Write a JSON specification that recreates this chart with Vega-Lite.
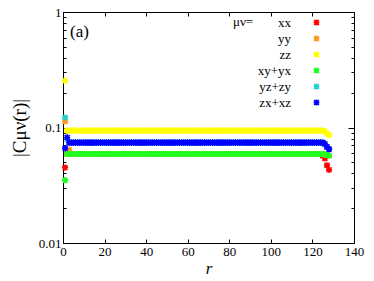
{
"$schema": "https://vega.github.io/schema/vega-lite/v6.json",
"width": 291, "height": 231,
"autosize": {"type": "none"},
"padding": {"left": 63, "top": 12, "right": 20, "bottom": 38},
"background": "white",
"title": {"text": "(a)", "anchor": "start", "orient": "top", "frame": "group", "offset": -35, "dx": 7, "font": "Liberation Serif", "fontSize": 17, "fontWeight": "normal", "color": "black"},
"config": {"view": {"stroke": "black", "strokeWidth": 1}},
"data": {"values": [
{"r":1,"xx":0.045,"yy":0.113,"zz":0.254,"xyyx":0.035,"yzzy":0.122,"zxxz":0.066},
{"r":2,"xx":0.059,"yy":0.059,"zz":0.094,"xyyx":0.059,"yzzy":0.079,"zxxz":0.082},
{"r":3,"xx":0.059,"yy":0.064,"zz":0.094,"xyyx":0.059,"yzzy":0.074,"zxxz":0.074},
{"r":4,"xx":0.059,"yy":0.059,"zz":0.094,"xyyx":0.059,"yzzy":0.074,"zxxz":0.074},
{"r":5,"xx":0.059,"yy":0.059,"zz":0.094,"xyyx":0.059,"yzzy":0.074,"zxxz":0.074},
{"r":6,"xx":0.059,"yy":0.059,"zz":0.094,"xyyx":0.059,"yzzy":0.074,"zxxz":0.074},
{"r":7,"xx":0.059,"yy":0.059,"zz":0.094,"xyyx":0.059,"yzzy":0.074,"zxxz":0.074},
{"r":8,"xx":0.059,"yy":0.059,"zz":0.094,"xyyx":0.059,"yzzy":0.074,"zxxz":0.074},
{"r":9,"xx":0.059,"yy":0.059,"zz":0.094,"xyyx":0.059,"yzzy":0.074,"zxxz":0.074},
{"r":10,"xx":0.059,"yy":0.059,"zz":0.094,"xyyx":0.059,"yzzy":0.074,"zxxz":0.074},
{"r":11,"xx":0.059,"yy":0.059,"zz":0.094,"xyyx":0.059,"yzzy":0.074,"zxxz":0.074},
{"r":12,"xx":0.059,"yy":0.059,"zz":0.094,"xyyx":0.059,"yzzy":0.074,"zxxz":0.074},
{"r":13,"xx":0.059,"yy":0.059,"zz":0.094,"xyyx":0.059,"yzzy":0.074,"zxxz":0.074},
{"r":14,"xx":0.059,"yy":0.059,"zz":0.094,"xyyx":0.059,"yzzy":0.074,"zxxz":0.074},
{"r":15,"xx":0.059,"yy":0.059,"zz":0.094,"xyyx":0.059,"yzzy":0.074,"zxxz":0.074},
{"r":16,"xx":0.059,"yy":0.059,"zz":0.094,"xyyx":0.059,"yzzy":0.074,"zxxz":0.074},
{"r":17,"xx":0.059,"yy":0.059,"zz":0.094,"xyyx":0.059,"yzzy":0.074,"zxxz":0.074},
{"r":18,"xx":0.059,"yy":0.059,"zz":0.094,"xyyx":0.059,"yzzy":0.074,"zxxz":0.074},
{"r":19,"xx":0.059,"yy":0.059,"zz":0.094,"xyyx":0.059,"yzzy":0.074,"zxxz":0.074},
{"r":20,"xx":0.059,"yy":0.059,"zz":0.094,"xyyx":0.059,"yzzy":0.074,"zxxz":0.074},
{"r":21,"xx":0.059,"yy":0.059,"zz":0.094,"xyyx":0.059,"yzzy":0.074,"zxxz":0.074},
{"r":22,"xx":0.059,"yy":0.059,"zz":0.094,"xyyx":0.059,"yzzy":0.074,"zxxz":0.074},
{"r":23,"xx":0.059,"yy":0.059,"zz":0.094,"xyyx":0.059,"yzzy":0.074,"zxxz":0.074},
{"r":24,"xx":0.059,"yy":0.059,"zz":0.094,"xyyx":0.059,"yzzy":0.074,"zxxz":0.074},
{"r":25,"xx":0.059,"yy":0.059,"zz":0.094,"xyyx":0.059,"yzzy":0.074,"zxxz":0.074},
{"r":26,"xx":0.059,"yy":0.059,"zz":0.094,"xyyx":0.059,"yzzy":0.074,"zxxz":0.074},
{"r":27,"xx":0.059,"yy":0.059,"zz":0.094,"xyyx":0.059,"yzzy":0.074,"zxxz":0.074},
{"r":28,"xx":0.059,"yy":0.059,"zz":0.094,"xyyx":0.059,"yzzy":0.074,"zxxz":0.074},
{"r":29,"xx":0.059,"yy":0.059,"zz":0.094,"xyyx":0.059,"yzzy":0.074,"zxxz":0.074},
{"r":30,"xx":0.059,"yy":0.059,"zz":0.094,"xyyx":0.059,"yzzy":0.074,"zxxz":0.074},
{"r":31,"xx":0.059,"yy":0.059,"zz":0.094,"xyyx":0.059,"yzzy":0.074,"zxxz":0.074},
{"r":32,"xx":0.059,"yy":0.059,"zz":0.094,"xyyx":0.059,"yzzy":0.074,"zxxz":0.074},
{"r":33,"xx":0.059,"yy":0.059,"zz":0.094,"xyyx":0.059,"yzzy":0.074,"zxxz":0.074},
{"r":34,"xx":0.059,"yy":0.059,"zz":0.094,"xyyx":0.059,"yzzy":0.074,"zxxz":0.074},
{"r":35,"xx":0.059,"yy":0.059,"zz":0.094,"xyyx":0.059,"yzzy":0.074,"zxxz":0.074},
{"r":36,"xx":0.059,"yy":0.059,"zz":0.094,"xyyx":0.059,"yzzy":0.074,"zxxz":0.074},
{"r":37,"xx":0.059,"yy":0.059,"zz":0.094,"xyyx":0.059,"yzzy":0.074,"zxxz":0.074},
{"r":38,"xx":0.059,"yy":0.059,"zz":0.094,"xyyx":0.059,"yzzy":0.074,"zxxz":0.074},
{"r":39,"xx":0.059,"yy":0.059,"zz":0.094,"xyyx":0.059,"yzzy":0.074,"zxxz":0.074},
{"r":40,"xx":0.059,"yy":0.059,"zz":0.094,"xyyx":0.059,"yzzy":0.074,"zxxz":0.074},
{"r":41,"xx":0.059,"yy":0.059,"zz":0.094,"xyyx":0.059,"yzzy":0.074,"zxxz":0.074},
{"r":42,"xx":0.059,"yy":0.059,"zz":0.094,"xyyx":0.059,"yzzy":0.074,"zxxz":0.074},
{"r":43,"xx":0.059,"yy":0.059,"zz":0.094,"xyyx":0.059,"yzzy":0.074,"zxxz":0.074},
{"r":44,"xx":0.059,"yy":0.059,"zz":0.094,"xyyx":0.059,"yzzy":0.074,"zxxz":0.074},
{"r":45,"xx":0.059,"yy":0.059,"zz":0.094,"xyyx":0.059,"yzzy":0.074,"zxxz":0.074},
{"r":46,"xx":0.059,"yy":0.059,"zz":0.094,"xyyx":0.059,"yzzy":0.074,"zxxz":0.074},
{"r":47,"xx":0.059,"yy":0.059,"zz":0.094,"xyyx":0.059,"yzzy":0.074,"zxxz":0.074},
{"r":48,"xx":0.059,"yy":0.059,"zz":0.094,"xyyx":0.059,"yzzy":0.074,"zxxz":0.074},
{"r":49,"xx":0.059,"yy":0.059,"zz":0.094,"xyyx":0.059,"yzzy":0.074,"zxxz":0.074},
{"r":50,"xx":0.059,"yy":0.059,"zz":0.094,"xyyx":0.059,"yzzy":0.074,"zxxz":0.074},
{"r":51,"xx":0.059,"yy":0.059,"zz":0.094,"xyyx":0.059,"yzzy":0.074,"zxxz":0.074},
{"r":52,"xx":0.059,"yy":0.059,"zz":0.094,"xyyx":0.059,"yzzy":0.074,"zxxz":0.074},
{"r":53,"xx":0.059,"yy":0.059,"zz":0.094,"xyyx":0.059,"yzzy":0.074,"zxxz":0.074},
{"r":54,"xx":0.059,"yy":0.059,"zz":0.094,"xyyx":0.059,"yzzy":0.074,"zxxz":0.074},
{"r":55,"xx":0.059,"yy":0.059,"zz":0.094,"xyyx":0.059,"yzzy":0.074,"zxxz":0.074},
{"r":56,"xx":0.059,"yy":0.059,"zz":0.094,"xyyx":0.059,"yzzy":0.074,"zxxz":0.074},
{"r":57,"xx":0.059,"yy":0.059,"zz":0.094,"xyyx":0.059,"yzzy":0.074,"zxxz":0.074},
{"r":58,"xx":0.059,"yy":0.059,"zz":0.094,"xyyx":0.059,"yzzy":0.074,"zxxz":0.074},
{"r":59,"xx":0.059,"yy":0.059,"zz":0.094,"xyyx":0.059,"yzzy":0.074,"zxxz":0.074},
{"r":60,"xx":0.059,"yy":0.059,"zz":0.094,"xyyx":0.059,"yzzy":0.074,"zxxz":0.074},
{"r":61,"xx":0.059,"yy":0.059,"zz":0.094,"xyyx":0.059,"yzzy":0.074,"zxxz":0.074},
{"r":62,"xx":0.059,"yy":0.059,"zz":0.094,"xyyx":0.059,"yzzy":0.074,"zxxz":0.074},
{"r":63,"xx":0.059,"yy":0.059,"zz":0.094,"xyyx":0.059,"yzzy":0.074,"zxxz":0.074},
{"r":64,"xx":0.059,"yy":0.059,"zz":0.094,"xyyx":0.059,"yzzy":0.074,"zxxz":0.074},
{"r":65,"xx":0.059,"yy":0.059,"zz":0.094,"xyyx":0.059,"yzzy":0.074,"zxxz":0.074},
{"r":66,"xx":0.059,"yy":0.059,"zz":0.094,"xyyx":0.059,"yzzy":0.074,"zxxz":0.074},
{"r":67,"xx":0.059,"yy":0.059,"zz":0.094,"xyyx":0.059,"yzzy":0.074,"zxxz":0.074},
{"r":68,"xx":0.059,"yy":0.059,"zz":0.094,"xyyx":0.059,"yzzy":0.074,"zxxz":0.074},
{"r":69,"xx":0.059,"yy":0.059,"zz":0.094,"xyyx":0.059,"yzzy":0.074,"zxxz":0.074},
{"r":70,"xx":0.059,"yy":0.059,"zz":0.094,"xyyx":0.059,"yzzy":0.074,"zxxz":0.074},
{"r":71,"xx":0.059,"yy":0.059,"zz":0.094,"xyyx":0.059,"yzzy":0.074,"zxxz":0.074},
{"r":72,"xx":0.059,"yy":0.059,"zz":0.094,"xyyx":0.059,"yzzy":0.074,"zxxz":0.074},
{"r":73,"xx":0.059,"yy":0.059,"zz":0.094,"xyyx":0.059,"yzzy":0.074,"zxxz":0.074},
{"r":74,"xx":0.059,"yy":0.059,"zz":0.094,"xyyx":0.059,"yzzy":0.074,"zxxz":0.074},
{"r":75,"xx":0.059,"yy":0.059,"zz":0.094,"xyyx":0.059,"yzzy":0.074,"zxxz":0.074},
{"r":76,"xx":0.059,"yy":0.059,"zz":0.094,"xyyx":0.059,"yzzy":0.074,"zxxz":0.074},
{"r":77,"xx":0.059,"yy":0.059,"zz":0.094,"xyyx":0.059,"yzzy":0.074,"zxxz":0.074},
{"r":78,"xx":0.059,"yy":0.059,"zz":0.094,"xyyx":0.059,"yzzy":0.074,"zxxz":0.074},
{"r":79,"xx":0.059,"yy":0.059,"zz":0.094,"xyyx":0.059,"yzzy":0.074,"zxxz":0.074},
{"r":80,"xx":0.059,"yy":0.059,"zz":0.094,"xyyx":0.059,"yzzy":0.074,"zxxz":0.074},
{"r":81,"xx":0.059,"yy":0.059,"zz":0.094,"xyyx":0.059,"yzzy":0.074,"zxxz":0.074},
{"r":82,"xx":0.059,"yy":0.059,"zz":0.094,"xyyx":0.059,"yzzy":0.074,"zxxz":0.074},
{"r":83,"xx":0.059,"yy":0.059,"zz":0.094,"xyyx":0.059,"yzzy":0.074,"zxxz":0.074},
{"r":84,"xx":0.059,"yy":0.059,"zz":0.094,"xyyx":0.059,"yzzy":0.074,"zxxz":0.074},
{"r":85,"xx":0.059,"yy":0.059,"zz":0.094,"xyyx":0.059,"yzzy":0.074,"zxxz":0.074},
{"r":86,"xx":0.059,"yy":0.059,"zz":0.094,"xyyx":0.059,"yzzy":0.074,"zxxz":0.074},
{"r":87,"xx":0.059,"yy":0.059,"zz":0.094,"xyyx":0.059,"yzzy":0.074,"zxxz":0.074},
{"r":88,"xx":0.059,"yy":0.059,"zz":0.094,"xyyx":0.059,"yzzy":0.074,"zxxz":0.074},
{"r":89,"xx":0.059,"yy":0.059,"zz":0.094,"xyyx":0.059,"yzzy":0.074,"zxxz":0.074},
{"r":90,"xx":0.059,"yy":0.059,"zz":0.094,"xyyx":0.059,"yzzy":0.074,"zxxz":0.074},
{"r":91,"xx":0.059,"yy":0.059,"zz":0.094,"xyyx":0.059,"yzzy":0.074,"zxxz":0.074},
{"r":92,"xx":0.059,"yy":0.059,"zz":0.094,"xyyx":0.059,"yzzy":0.074,"zxxz":0.074},
{"r":93,"xx":0.059,"yy":0.059,"zz":0.094,"xyyx":0.059,"yzzy":0.074,"zxxz":0.074},
{"r":94,"xx":0.059,"yy":0.059,"zz":0.094,"xyyx":0.059,"yzzy":0.074,"zxxz":0.074},
{"r":95,"xx":0.059,"yy":0.059,"zz":0.094,"xyyx":0.059,"yzzy":0.074,"zxxz":0.074},
{"r":96,"xx":0.059,"yy":0.059,"zz":0.094,"xyyx":0.059,"yzzy":0.074,"zxxz":0.074},
{"r":97,"xx":0.059,"yy":0.059,"zz":0.094,"xyyx":0.059,"yzzy":0.074,"zxxz":0.074},
{"r":98,"xx":0.059,"yy":0.059,"zz":0.094,"xyyx":0.059,"yzzy":0.074,"zxxz":0.074},
{"r":99,"xx":0.059,"yy":0.059,"zz":0.094,"xyyx":0.059,"yzzy":0.074,"zxxz":0.074},
{"r":100,"xx":0.059,"yy":0.059,"zz":0.094,"xyyx":0.059,"yzzy":0.074,"zxxz":0.074},
{"r":101,"xx":0.059,"yy":0.059,"zz":0.094,"xyyx":0.059,"yzzy":0.074,"zxxz":0.074},
{"r":102,"xx":0.059,"yy":0.059,"zz":0.094,"xyyx":0.059,"yzzy":0.074,"zxxz":0.074},
{"r":103,"xx":0.059,"yy":0.059,"zz":0.094,"xyyx":0.059,"yzzy":0.074,"zxxz":0.074},
{"r":104,"xx":0.059,"yy":0.059,"zz":0.094,"xyyx":0.059,"yzzy":0.074,"zxxz":0.074},
{"r":105,"xx":0.059,"yy":0.059,"zz":0.094,"xyyx":0.059,"yzzy":0.074,"zxxz":0.074},
{"r":106,"xx":0.059,"yy":0.059,"zz":0.094,"xyyx":0.059,"yzzy":0.074,"zxxz":0.074},
{"r":107,"xx":0.059,"yy":0.059,"zz":0.094,"xyyx":0.059,"yzzy":0.074,"zxxz":0.074},
{"r":108,"xx":0.059,"yy":0.059,"zz":0.094,"xyyx":0.059,"yzzy":0.074,"zxxz":0.074},
{"r":109,"xx":0.059,"yy":0.059,"zz":0.094,"xyyx":0.059,"yzzy":0.074,"zxxz":0.074},
{"r":110,"xx":0.059,"yy":0.059,"zz":0.094,"xyyx":0.059,"yzzy":0.074,"zxxz":0.074},
{"r":111,"xx":0.059,"yy":0.059,"zz":0.094,"xyyx":0.059,"yzzy":0.074,"zxxz":0.074},
{"r":112,"xx":0.059,"yy":0.059,"zz":0.094,"xyyx":0.059,"yzzy":0.074,"zxxz":0.074},
{"r":113,"xx":0.059,"yy":0.059,"zz":0.094,"xyyx":0.059,"yzzy":0.074,"zxxz":0.074},
{"r":114,"xx":0.059,"yy":0.059,"zz":0.094,"xyyx":0.059,"yzzy":0.074,"zxxz":0.074},
{"r":115,"xx":0.059,"yy":0.059,"zz":0.094,"xyyx":0.059,"yzzy":0.074,"zxxz":0.074},
{"r":116,"xx":0.059,"yy":0.059,"zz":0.094,"xyyx":0.059,"yzzy":0.074,"zxxz":0.074},
{"r":117,"xx":0.059,"yy":0.059,"zz":0.094,"xyyx":0.059,"yzzy":0.074,"zxxz":0.074},
{"r":118,"xx":0.059,"yy":0.059,"zz":0.094,"xyyx":0.059,"yzzy":0.074,"zxxz":0.074},
{"r":119,"xx":0.059,"yy":0.059,"zz":0.094,"xyyx":0.059,"yzzy":0.074,"zxxz":0.074},
{"r":120,"xx":0.059,"yy":0.059,"zz":0.094,"xyyx":0.059,"yzzy":0.074,"zxxz":0.074},
{"r":121,"xx":0.059,"yy":0.059,"zz":0.094,"xyyx":0.059,"yzzy":0.074,"zxxz":0.074},
{"r":122,"xx":0.059,"yy":0.059,"zz":0.094,"xyyx":0.059,"yzzy":0.074,"zxxz":0.074},
{"r":123,"xx":0.059,"yy":0.059,"zz":0.094,"xyyx":0.059,"yzzy":0.074,"zxxz":0.074},
{"r":124,"xx":0.059,"yy":0.059,"zz":0.094,"xyyx":0.059,"yzzy":0.074,"zxxz":0.074},
{"r":125,"xx":0.057,"yy":0.059,"zz":0.094,"xyyx":0.059,"yzzy":0.074,"zxxz":0.074},
{"r":126,"xx":0.054,"yy":0.058,"zz":0.092,"xyyx":0.058,"yzzy":0.072,"zxxz":0.072},
{"r":127,"xx":0.047,"yy":0.058,"zz":0.089,"xyyx":0.058,"yzzy":0.068,"zxxz":0.068},
{"r":128,"xx":0.043,"yy":0.057,"zz":0.086,"xyyx":0.057,"yzzy":0.065,"zxxz":0.065}
]},
"layer": [
{"mark": {"type": "point", "shape": "M-1,0L1,0M0,-1L0,1M-0.8,-0.8L0.8,0.8M-0.8,0.8L0.8,-0.8", "filled": false, "strokeWidth": 1.6, "size": 38, "opacity": 1},
 "encoding": {
  "x": {"field": "r", "type": "quantitative", "scale": {"domain": [0, 140], "nice": false},
        "axis": {"orient": "bottom", "values": [0,20,40,60,80,100,120,140], "grid": false, "tickSize": -4, "tickColor": "black", "domainColor": "black", "labelFont": "Liberation Serif", "labelFontSize": 13, "labelColor": "black", "labelPadding": 6, "labelFlush": false, "title": "r", "titleFont": "Liberation Serif", "titleFontSize": 17, "titleFontStyle": "italic", "titleFontWeight": "normal", "titleColor": "black", "titlePadding": 2}},
  "y": {"field": "xx", "type": "quantitative", "scale": {"type": "log", "domain": [0.01, 1], "nice": false},
        "axis": {"orient": "left", "values": [0.01,0.02,0.03,0.04,0.05,0.06,0.07,0.08,0.09,0.1,0.2,0.3,0.4,0.5,0.6,0.7,0.8,0.9,1], "grid": false,
                 "tickSize": {"condition": {"test": "datum.value < 0.015 || (datum.value > 0.095 && datum.value < 0.105) || datum.value > 0.95", "value": -6}, "value": -3},
                 "labelExpr": "datum.value < 0.015 ? '0.01' : (datum.value > 0.095 && datum.value < 0.105) ? '0.1' : datum.value > 0.95 ? '1' : ''",
                 "tickColor": "black", "domainColor": "black", "labelFont": "Liberation Serif", "labelFontSize": 13, "labelColor": "black", "labelPadding": 8, "labelFlush": false,
                 "title": "|Cμν(r)|", "titleFont": "Liberation Serif", "titleFontSize": 19, "titleFontWeight": "normal", "titleColor": "black", "titlePadding": 9}},
  "color": {"datum": "xx", "type": "nominal",
            "scale": {"domain": ["xx", "yy", "zz", "xy+yx", "yz+zy", "zx+xz"], "range": ["#ff0000", "#ff9922", "#ffff00", "#22ff22", "#22d0d0", "#0000ff"]},
            "legend": {"orient": "none", "legendX": 170, "legendY": 4, "title": "μν=", "titleOrient": "left", "titleAnchor": "start", "titlePadding": 56, "titleFont": "Liberation Serif", "titleFontSize": 13, "titleFontWeight": "normal", "titleColor": "black", "labelFont": "Liberation Serif", "labelFontSize": 13, "labelColor": "black", "labelAlign": "right", "labelOffset": -32, "symbolType": "M-1,0L1,0M0,-1L0,1M-0.8,-0.8L0.8,0.8M-0.8,0.8L0.8,-0.8", "symbolSize": 34, "symbolStrokeWidth": 1.6, "rowPadding": 2}}}},
{"mark": {"type": "point", "shape": "M-1,0L1,0M0,-1L0,1M-0.8,-0.8L0.8,0.8M-0.8,0.8L0.8,-0.8", "filled": false, "strokeWidth": 1.6, "size": 38, "opacity": 1},
 "encoding": {"x": {"field": "r", "type": "quantitative", "axis": null}, "y": {"field": "yy", "type": "quantitative", "axis": null}, "color": {"datum": "yy", "type": "nominal"}}},
{"mark": {"type": "point", "shape": "M-1,0L1,0M0,-1L0,1M-0.8,-0.8L0.8,0.8M-0.8,0.8L0.8,-0.8", "filled": false, "strokeWidth": 1.6, "size": 38, "opacity": 1},
 "encoding": {"x": {"field": "r", "type": "quantitative", "axis": null}, "y": {"field": "zz", "type": "quantitative", "axis": null}, "color": {"datum": "zz", "type": "nominal"}}},
{"mark": {"type": "point", "shape": "M-1,0L1,0M0,-1L0,1M-0.8,-0.8L0.8,0.8M-0.8,0.8L0.8,-0.8", "filled": false, "strokeWidth": 1.6, "size": 38, "opacity": 1},
 "encoding": {"x": {"field": "r", "type": "quantitative", "axis": null}, "y": {"field": "xyyx", "type": "quantitative", "axis": null}, "color": {"datum": "xy+yx", "type": "nominal"}}},
{"mark": {"type": "point", "shape": "M-1,0L1,0M0,-1L0,1M-0.8,-0.8L0.8,0.8M-0.8,0.8L0.8,-0.8", "filled": false, "strokeWidth": 1.6, "size": 38, "opacity": 1},
 "encoding": {"x": {"field": "r", "type": "quantitative", "axis": null}, "y": {"field": "yzzy", "type": "quantitative", "axis": null}, "color": {"datum": "yz+zy", "type": "nominal"}}},
{"mark": {"type": "point", "shape": "M-1,0L1,0M0,-1L0,1M-0.8,-0.8L0.8,0.8M-0.8,0.8L0.8,-0.8", "filled": false, "strokeWidth": 1.6, "size": 38, "opacity": 1},
 "encoding": {
  "x": {"field": "r", "type": "quantitative",
        "axis": {"orient": "top", "values": [0,20,40,60,80,100,120,140], "grid": false, "labels": false, "title": null, "tickSize": -4, "tickColor": "black", "domainColor": "black"}},
  "y": {"field": "zxxz", "type": "quantitative",
        "axis": {"orient": "right", "values": [0.01,0.02,0.03,0.04,0.05,0.06,0.07,0.08,0.09,0.1,0.2,0.3,0.4,0.5,0.6,0.7,0.8,0.9,1], "grid": false, "labels": false, "title": null,
                 "tickSize": {"condition": {"test": "datum.value < 0.015 || (datum.value > 0.095 && datum.value < 0.105) || datum.value > 0.95", "value": -6}, "value": -3},
                 "tickColor": "black", "domainColor": "black"}},
  "color": {"datum": "zx+xz", "type": "nominal"}}}
],
"resolve": {"axis": {"x": "independent", "y": "independent"}}
}
